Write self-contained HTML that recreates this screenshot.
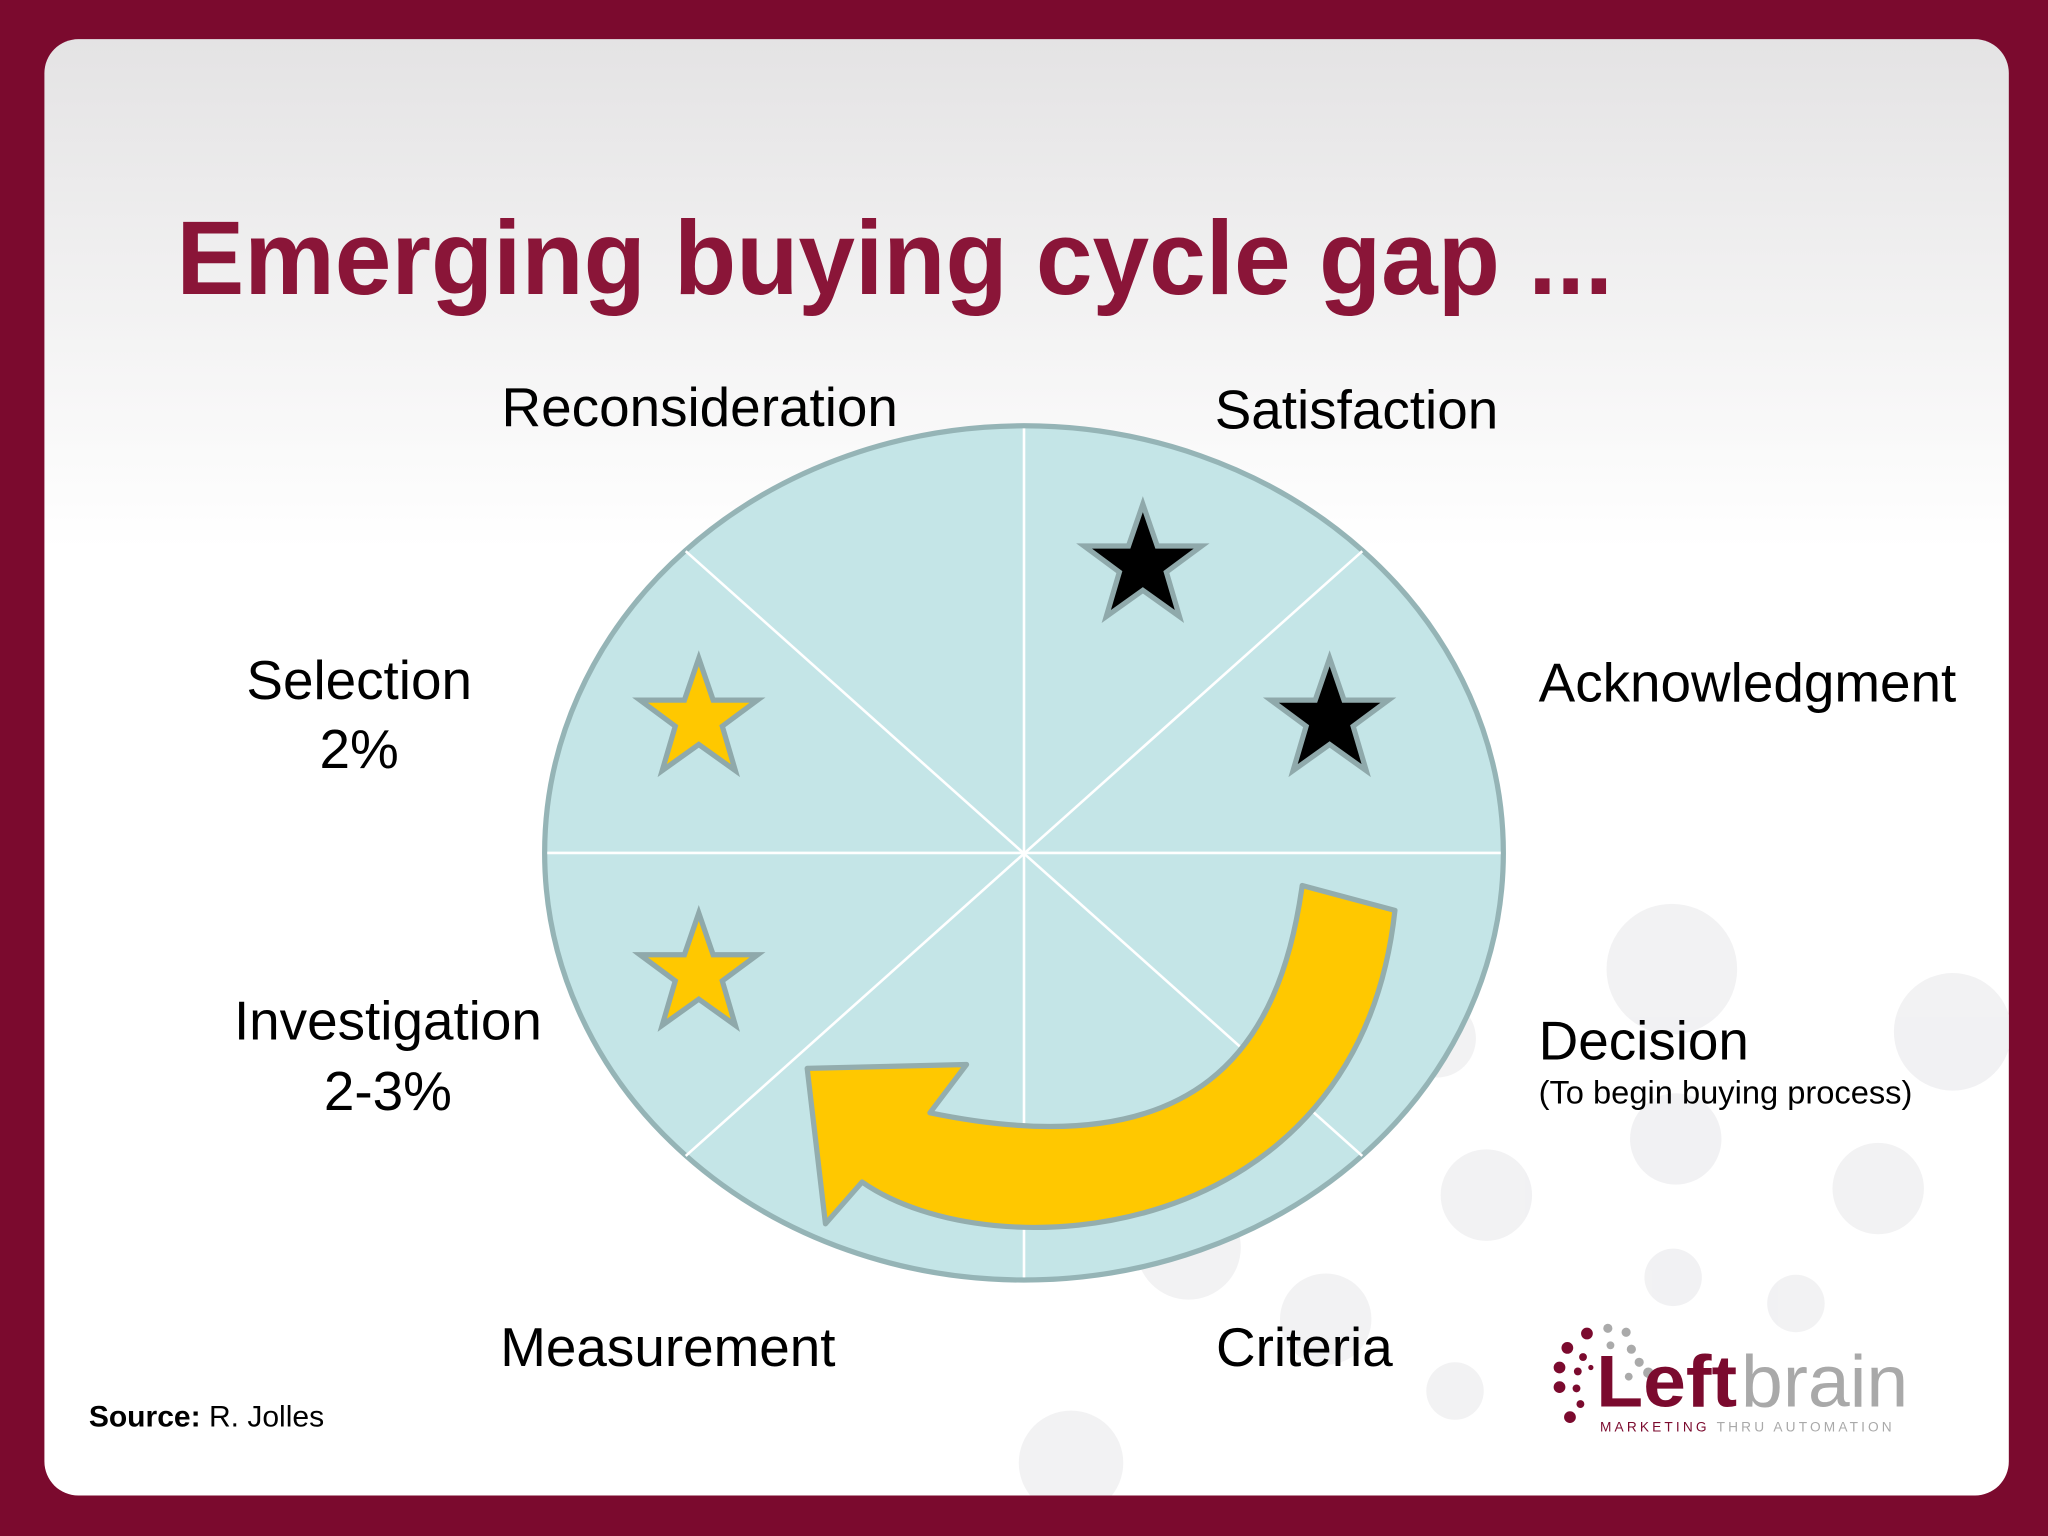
<!DOCTYPE html>
<html><head><meta charset="utf-8"><style>
html,body{margin:0;padding:0;background:#7b0a2e;}
svg{display:block}
text{font-family:"Liberation Sans",sans-serif;}
</style></head><body>
<svg width="2048" height="1536" viewBox="0 0 1568 1176" xmlns="http://www.w3.org/2000/svg">
<defs>
<linearGradient id="bg" x1="0" y1="0" x2="0" y2="1">
<stop offset="0" stop-color="#e4e3e4"/><stop offset="0.35" stop-color="#ffffff"/><stop offset="1" stop-color="#ffffff"/>
</linearGradient>
<clipPath id="cardclip"><rect x="34" y="30" width="1504" height="1115" rx="26"/></clipPath>
<polygon id="star" points="0,-46 11,-14 45,-14 18,6 28,40 0,20 -28,40 -18,6 -45,-14 -11,-14"/>
</defs>
<rect x="0" y="0" width="1568" height="1176" fill="#7b0a2e"/>
<rect x="34" y="30" width="1504" height="1115" rx="26" fill="url(#bg)"/>
<g fill="#ececee" opacity="0.7" clip-path="url(#cardclip)">
<circle cx="1280" cy="742" r="50"/><circle cx="1495" cy="790" r="45"/><circle cx="1283" cy="872" r="35"/>
<circle cx="1138" cy="915" r="35"/><circle cx="1438" cy="910" r="35"/><circle cx="1281" cy="978" r="22"/>
<circle cx="1375" cy="998" r="22"/><circle cx="1114" cy="1065" r="22"/><circle cx="1015" cy="1010" r="35"/>
<circle cx="1100" cy="795" r="30"/><circle cx="910" cy="955" r="40"/><circle cx="820" cy="1120" r="40"/>
</g>
<text x="135" y="225" font-size="80" font-weight="bold" fill="#8a1538" textLength="1100" lengthAdjust="spacingAndGlyphs">Emerging buying cycle gap ...</text>
<g>
<ellipse cx="784" cy="653" rx="367" ry="327" fill="#c4e5e7" stroke="#95b4b6" stroke-width="4"/>
<g stroke="#ffffff" stroke-width="2">
<line x1="784" y1="328" x2="784" y2="978"/><line x1="419" y1="653" x2="1149" y2="653"/>
<line x1="525" y1="422" x2="1043" y2="885"/><line x1="1043" y1="422" x2="525" y2="885"/>
</g>
<use href="#star" x="535" y="550" fill="#ffc800" stroke="#8fa9ab" stroke-width="4"/>
<use href="#star" x="535" y="745" fill="#ffc800" stroke="#8fa9ab" stroke-width="4"/>
<use href="#star" x="875" y="432" fill="#000" stroke="#8fa9ab" stroke-width="4"/>
<use href="#star" x="1018" y="550" fill="#000" stroke="#8fa9ab" stroke-width="4"/>
<path d="M997,678 C980,800 920,895 712,852 L740,815 L618,818 L632,937 L660,905 C760,975 1040,955 1068,697 Z" fill="#ffc800" stroke="#93adae" stroke-width="4" stroke-linejoin="round"/>
</g>
<g font-size="42" fill="#000">
<text x="384" y="326">Reconsideration</text>
<text x="930" y="328">Satisfaction</text>
<text x="275" y="535" text-anchor="middle">Selection</text>
<text x="275" y="588" text-anchor="middle">2%</text>
<text x="1178" y="537">Acknowledgment</text>
<text x="297" y="796" text-anchor="middle">Investigation</text>
<text x="297" y="850" text-anchor="middle">2-3%</text>
<text x="1178" y="811">Decision</text>
<text x="1178" y="845" font-size="25">(To begin buying process)</text>
<text x="383" y="1046">Measurement</text>
<text x="931" y="1046">Criteria</text>
</g>
<text x="68" y="1092" font-size="23" fill="#000"><tspan font-weight="bold">Source:</tspan> R. Jolles</text>
<g>
<g fill="#7b0a2e">
<circle cx="1215" cy="1021" r="4.5"/><circle cx="1200" cy="1032" r="4.5"/><circle cx="1212" cy="1039" r="3"/>
<circle cx="1194" cy="1047" r="4.5"/><circle cx="1208" cy="1050" r="3"/><circle cx="1218" cy="1047" r="2"/>
<circle cx="1194" cy="1062" r="4.5"/><circle cx="1207" cy="1063" r="3"/><circle cx="1210" cy="1075" r="3"/><circle cx="1202" cy="1085" r="4.5"/>
</g>
<g fill="#aaa">
<circle cx="1231" cy="1017" r="3.5"/><circle cx="1245" cy="1020" r="3.5"/><circle cx="1233" cy="1030" r="3"/>
<circle cx="1249" cy="1033" r="3.5"/><circle cx="1255" cy="1043" r="3.5"/><circle cx="1262" cy="1051" r="4"/><circle cx="1247" cy="1054" r="3"/>
</g>
<text x="1222" y="1077" font-size="56" font-weight="bold" fill="#7b0a2e" textLength="108" lengthAdjust="spacingAndGlyphs">Left</text>
<text x="1333" y="1077" font-size="56" fill="#a9a9a9" textLength="128" lengthAdjust="spacingAndGlyphs">brain</text>
<text x="1225" y="1096" font-size="10.5" letter-spacing="2.4" fill="#7b0a2e">MARKETING <tspan fill="#a9a9a9">THRU AUTOMATION</tspan></text>
</g>
</svg>
</body></html>
